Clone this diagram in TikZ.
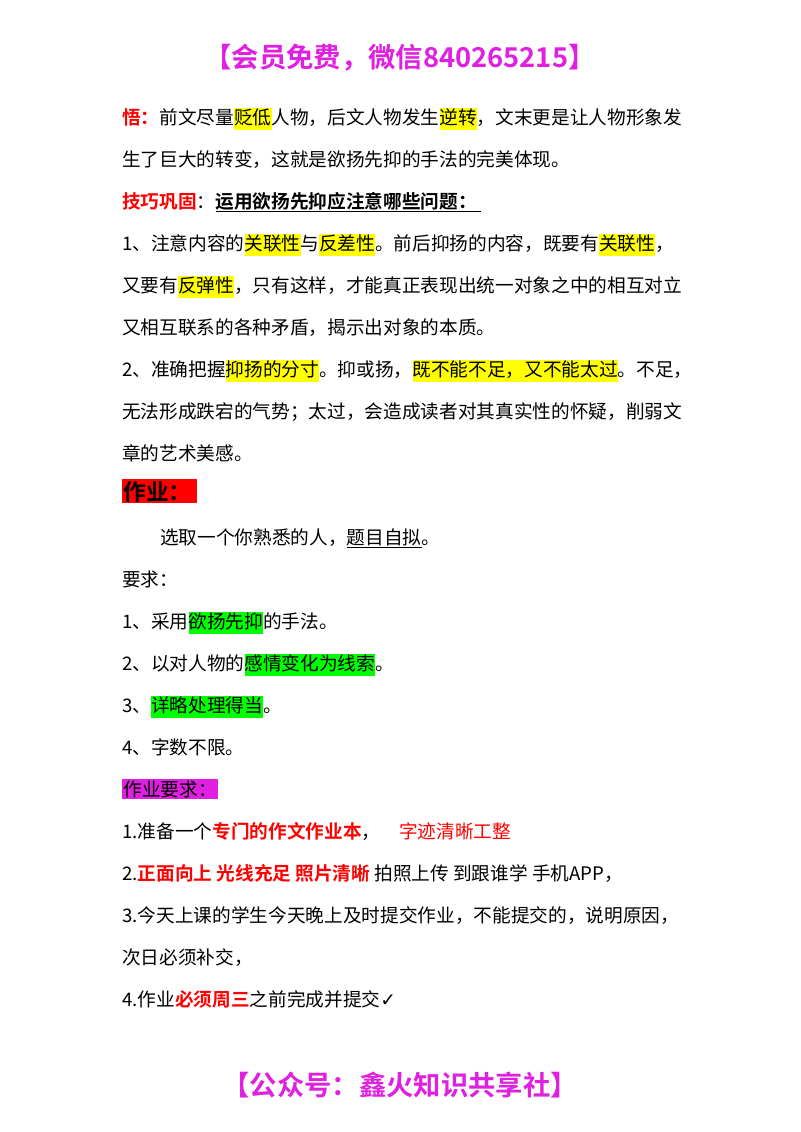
\documentclass[tikz,border=0pt]{standalone}
\usepackage{fontspec}
\setmainfont{Noto Sans CJK SC}
\newfontfamily\bfcjk{Noto Sans CJK SC Bold}
\newfontfamily\dejavu{DejaVu Sans}
\definecolor{mag}{HTML}{E020E0}
\definecolor{hy}{HTML}{FFFF00}
\definecolor{hg}{HTML}{00FF00}
\newcommand{\hlY}[1]{{\setlength\fboxsep{0pt}\colorbox{hy}{\strut #1}}}
\newcommand{\hlG}[1]{{\setlength\fboxsep{0pt}\colorbox{hg}{\strut #1}}}
\newcommand{\rb}[1]{{\bfcjk\color{red}#1}}
\begin{document}
\begin{tikzpicture}[x=0.75pt,y=-0.75pt,
  body/.style={anchor=base west,inner sep=0pt,font=\fontsize{14}{16}\selectfont},
  head/.style={anchor=base,inner sep=0pt,font=\bfcjk\fontsize{20.5}{22}\selectfont\color{mag}}]
\useasboundingbox (0,0) rectangle (800,1132);
\fill[white] (0,0) rectangle (800,1132);
\node[head] (t) at (400,67) {【会员免费，微信840265215】};
\node[body] (l1) at (122,124) {\rb{悟：}前文尽量\hlY{贬低}人物，后文人物发生\hlY{逆转}，文末更是让人物形象发};
\node[body] (l2) at (122,166) {生了巨大的转变，这就是欲扬先抑的手法的完美体现。};
\node[body] (l3) at (122,208) {\rb{技巧巩固}：\underline{\bfcjk 运用欲扬先抑应注意哪些问题：\ }};
\node[body] (l4) at (122,250) {1、注意内容的\hlY{关联性}与\hlY{反差性}。前后抑扬的内容，既要有\hlY{关联性}，};
\node[body] (l5) at (122,292) {又要有\hlY{反弹性}，只有这样，才能真正表现出统一对象之中的相互对立};
\node[body] (l6) at (122,334) {又相互联系的各种矛盾，揭示出对象的本质。};
\node[body] (l7) at (122,376) {2、准确把握\hlY{抑扬的分寸}。抑或扬，\hlY{既不能不足，又不能太过}。不足，};
\node[body] (l8) at (122,418) {无法形成跌宕的气势；太过，会造成读者对其真实性的怀疑，削弱文};
\node[body] (l9) at (122,460) {章的艺术美感。};
\node[body,fill=red,inner sep=1pt,font=\bfcjk\fontsize{17}{19}\selectfont] (zy) at (122,500) {作业：\,};
\node[body] (l10) at (160,544) {选取一个你熟悉的人，\underline{题目自拟}。};
\node[body] (l11) at (122,586) {要求：};
\node[body] (l12) at (122,628) {1、采用\hlG{欲扬先抑}的手法。};
\node[body] (l13) at (122,670) {2、以对人物的\hlG{感情变化为线索}。};
\node[body] (l14) at (122,712) {3、\hlG{详略处理得当}。};
\node[body] (l15) at (122,754) {4、字数不限。};
\node[body,fill=mag,inner sep=1pt] (zyq) at (122,796) {作业要求：};
\node[body] (l16) at (122,838) {1.准备一个\rb{专门的作文作业本}，\quad{\color{red}字迹清晰工整}};
\node[body] (l17) at (122,880) {2.\rb{正面向上\ 光线充足\ 照片清晰}\ 拍照上传\ 到跟谁学\ 手机APP，};
\node[body] (l18) at (122,922) {3.今天上课的学生今天晚上及时提交作业，不能提交的，说明原因，};
\node[body] (l19) at (122,964) {次日必须补交，};
\node[body] (l20) at (122,1006) {4.作业\rb{必须周三}之前完成并提交{\dejavu ✓}};
\node[head] (f) at (400,1095) {【公众号：鑫火知识共享社】};
\end{tikzpicture}
\end{document}
